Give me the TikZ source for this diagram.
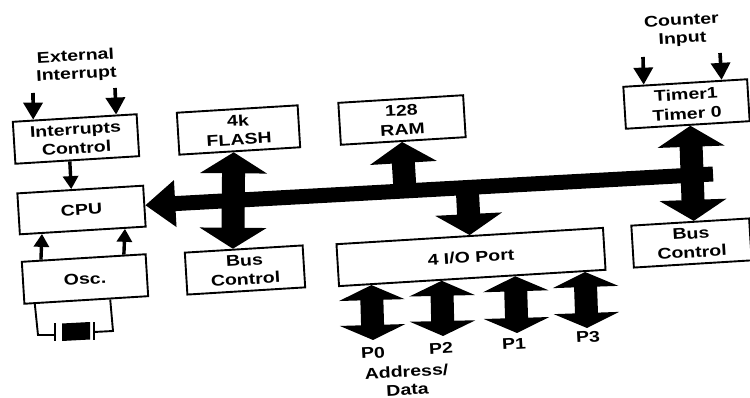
\documentclass[tikz,border=0pt]{standalone}
\usepackage{fontspec}
\setmainfont[FakeStretch=1.26]{Liberation Sans Bold}
\usetikzlibrary{arrows.meta,calc}
\tikzset{
  block/.style={draw=black,line width=1.9pt,fill=white,rotate=3.5,inner sep=0pt,align=center,
    font=\fontsize{15.5}{19}\selectfont},
  caption/.style={rotate=3.2,inner sep=0pt,align=center,font=\fontsize{15.5}{18}\selectfont},
  thinarrow/.style={line width=3.6pt,-{Triangle[length=17pt,width=19pt]}},
  smallarrow/.style={line width=3.4pt,-{Triangle[length=13pt,width=15pt]}},
  wire/.style={line width=1.9pt},
  busline/.style={line width=15pt,-{Triangle[length=30pt,width=45pt]}},
  upblock/.style={line width=23pt,-{Triangle[length=21pt,width=66pt]}},
  twoblock/.style={line width=23pt,{Triangle[length=21pt,width=66pt]}-{Triangle[length=21pt,width=66pt]}},
  portblock/.style={line width=23pt,{Triangle[length=15pt,width=65pt]}-{Triangle[length=15pt,width=65pt]}}
}
\begin{document}
\begin{tikzpicture}[x=1pt,y=-1pt]
\useasboundingbox[fill=white] (0,0) rectangle (750,398);
% boxes
\node[block,minimum width=124pt,minimum height=42pt] (int) at (76,139) {Interrupts\\Control};
\node[block,minimum width=126pt,minimum height=41pt] (cpu) at (81.5,210) {CPU};
\node[block,minimum width=124pt,minimum height=42pt] (osc) at (85,279) {Osc.};
\node[block,minimum width=121pt,minimum height=42pt] (flash) at (238.5,130) {4k\\FLASH};
\node[block,minimum width=118pt,minimum height=42pt] (busa) at (245,270) {Bus\\Control};
\node[block,minimum width=125pt,minimum height=42pt] (ram) at (402,120) {128\\RAM};
\node[block,minimum width=124pt,minimum height=42pt] (timer) at (686.5,104) {Timer1\\Timer 0};
\node[block,minimum width=267pt,minimum height=42pt] (io) at (471,257) {4 I/O Port};
\node[block,minimum width=118pt,minimum height=42pt] (busb) at (691.5,243) {Bus\\Control};
% captions
\node[caption] (ext) at (76,66) {External\\Interrupt};
\node[caption] (cnt) at (682,30.5) {Counter\\Input};
\node[caption] (p0) at (373,353) {P0};
\node[caption] (p2) at (441,348) {P2};
\node[caption] (p1) at (514,344) {P1};
\node[caption] (p3) at (588,337) {P3};
\node[caption] (addr) at (407,380.5) {Address/\\Data};
% free ends
\coordinate (busend) at (713,174);
\coordinate (ramroot) at (405,190);
\coordinate (ioroot) at (467,183);
\coordinate (e1) at (33,93);
\coordinate (e2) at (115,88);
\coordinate (c1) at (643,57);
\coordinate (c2) at (720,53);
\coordinate (p0end) at (373,340);
\coordinate (p2end) at (443,336);
\coordinate (p1end) at (517,333);
\coordinate (p3end) at (587,328);
% bus
\draw[busline] (busend) -- ($(cpu.south east)!.52!(cpu.north east)$);
\draw[upblock] (ramroot) -- ($(ram.south west)!.49!(ram.south east)$);
\draw[upblock] (ioroot) -- ($(io.north west)!.5!(io.north east)$);
\draw[twoblock] ($(flash.south west)!.45!(flash.south east)$) -- ($(busa.north west)!.41!(busa.north east)$);
\draw[twoblock] ($(timer.south west)!.52!(timer.south east)$) -- ($(busb.north west)!.53!(busb.north east)$);
\draw[portblock] ($(io.south west)!.124!(io.south east)$) -- (p0end);
\draw[portblock] ($(io.south west)!.386!(io.south east)$) -- (p2end);
\draw[portblock] ($(io.south west)!.66!(io.south east)$) -- (p1end);
\draw[portblock] ($(io.south west)!.92!(io.south east)$) -- (p3end);
% thin arrows
\draw[thinarrow] (e1) -- ($(int.north west)!.17!(int.north east)$);
\draw[thinarrow] (e2) -- ($(int.north west)!.83!(int.north east)$);
\draw[thinarrow] (c1) -- ($(timer.north west)!.17!(timer.north east)$);
\draw[thinarrow] (c2) -- ($(timer.north west)!.79!(timer.north east)$);
\draw[smallarrow] ($(int.south west)!.44!(int.south east)$) -- ($(cpu.north west)!.43!(cpu.north east)$);
\draw[smallarrow] ($(osc.north west)!.16!(osc.north east)$) -- ($(cpu.south west)!.18!(cpu.south east)$);
\draw[smallarrow] ($(osc.north west)!.82!(osc.north east)$) -- ($(cpu.south west)!.83!(cpu.south east)$);
% crystal
\draw[wire] ($(osc.south west)!.09!(osc.south east)$) -- (38,335) -- (55,335);
\draw[wire] ($(osc.south west)!.69!(osc.south east)$) -- (113,331) -- (94,332);
\draw[wire] (55,323) -- (55,341);
\draw[wire] (94,322) -- (94,340);
\fill[black] (62,323.5) -- (90,322) -- (90,339.5) -- (62,341) -- cycle;
\end{tikzpicture}
\end{document}
